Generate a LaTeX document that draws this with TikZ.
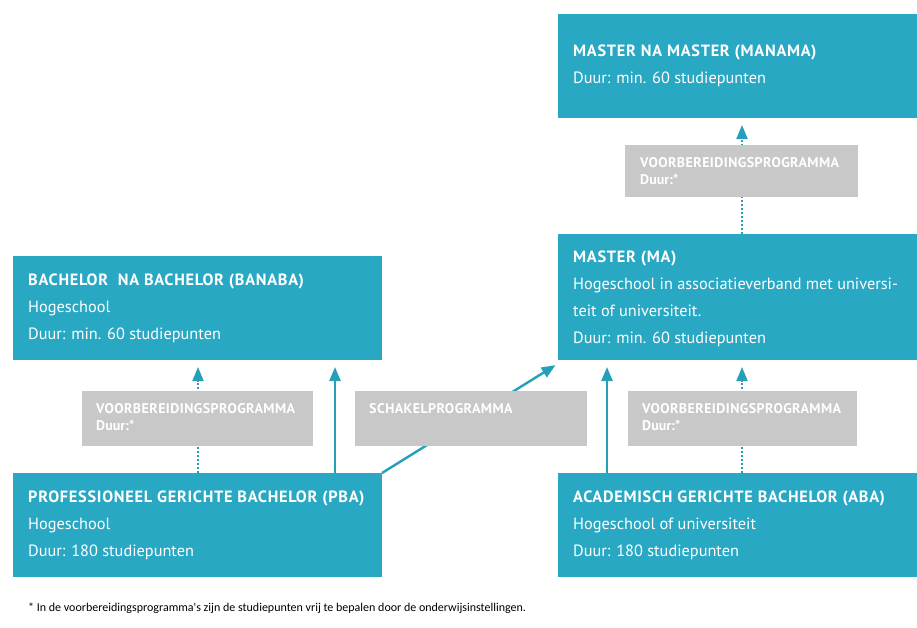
\documentclass[tikz,border=0pt]{standalone}
\usepackage{fontspec}
\setmainfont{PT Sans}
\newfontfamily\footfont{Carlito}
\usetikzlibrary{arrows.meta}
\definecolor{tealbox}{RGB}{41,168,196}
\definecolor{tealline}{RGB}{38,160,186}
\definecolor{graybox}{RGB}{200,200,200}
\begin{document}
\begin{tikzpicture}[x=1pt,y=-1pt,
  box/.style={fill=tealbox, draw=none, anchor=north west, inner sep=0pt, outer sep=0pt},
  gbox/.style={fill=graybox, draw=none, anchor=north west, inner sep=0pt, outer sep=0pt},
  btext/.style={anchor=base west, align=left, text=white, inner sep=0pt,
    font=\fontsize{16.3}{26.7}\selectfont},
  gtext/.style={anchor=base west, align=left, text=white, inner sep=0pt,
    font=\fontsize{14}{17}\selectfont\bfseries},
  conn/.style={draw=tealline, line width=2.4pt,
    -{Triangle[length=14pt,width=11pt]}, shorten >=7pt},
  dconn/.style={draw=tealline, line width=2pt, dotted,
    -{Triangle[length=14pt,width=11pt]}, shorten >=7pt}
]
\useasboundingbox (0,0) rectangle (917,627);

% boxes
\node[box, minimum width=359, minimum height=104] (manama) at (558,14) {};
\node[box, minimum width=359, minimum height=126] (ma) at (558,234) {};
\node[box, minimum width=369, minimum height=104] (banaba) at (13,256) {};
\node[box, minimum width=369, minimum height=104] (pba) at (13,473) {};
\node[box, minimum width=359, minimum height=104] (aba) at (558,473) {};

% helper coordinates
\coordinate (xa) at (335,0);
\coordinate (xb) at (607,0);
\coordinate (xd) at (198,0);
\coordinate (xe) at (742,0);
\coordinate (diagend) at (559,363);

% connectors (drawn under the grey boxes)
\draw[dconn] (xd |- pba.north) -- (xd |- banaba.south);
\draw[conn] (xa |- pba.north) -- (xa |- banaba.south);
\draw[conn, shorten >=4pt] (pba.north east) -- (diagend);
\draw[conn] (xb |- aba.north) -- (xb |- ma.south);
\draw[dconn] (xe |- aba.north) -- (xe |- ma.south);
\draw[dconn] (xe |- ma.north) -- (xe |- manama.south);

% grey boxes
\node[gbox, minimum width=233, minimum height=52] (vtop) at (625,145) {};
\node[gbox, minimum width=231, minimum height=55] (vleft) at (82,391) {};
\node[gbox, minimum width=232, minimum height=55] (schakel) at (355,391) {};
\node[gbox, minimum width=229, minimum height=55] (vright) at (628,391) {};

% texts (anchor = baseline of the last line)
\node[btext] (manamaT) at (573,83) {\textbf{\addfontfeatures{LetterSpace=4.5}MASTER NA MASTER (MANAMA)}\\Duur: min. 60 studiepunten};
\node[btext] (maT) at (573,343) {\textbf{\addfontfeatures{LetterSpace=4.5}MASTER (MA)}\\Hogeschool in associatieverband met universi-\\teit of universiteit.\\Duur: min. 60 studiepunten};
\node[btext] (banabaT) at (28,339) {\textbf{\addfontfeatures{LetterSpace=4.5}BACHELOR\ \ NA BACHELOR (BANABA)}\\Hogeschool\\Duur: min. 60 studiepunten};
\node[btext] (pbaT) at (28,556) {\textbf{\addfontfeatures{LetterSpace=4.5}PROFESSIONEEL GERICHTE BACHELOR (PBA)}\\Hogeschool\\Duur: 180 studiepunten};
\node[btext] (abaT) at (573,556) {\textbf{\addfontfeatures{LetterSpace=4.5}ACADEMISCH GERICHTE BACHELOR (ABA)}\\Hogeschool of universiteit\\Duur: 180 studiepunten};

\node[gtext] (vtopT) at (640,184) {\addfontfeatures{LetterSpace=3}VOORBEREIDINGSPROGRAMMA\\Duur:*};
\node[gtext] (vleftT) at (96,430) {\addfontfeatures{LetterSpace=3}VOORBEREIDINGSPROGRAMMA\\Duur:*};
\node[gtext] (schakelT) at (369,413) {\addfontfeatures{LetterSpace=3}SCHAKELPROGRAMMA};
\node[gtext] (vrightT) at (642,430) {\addfontfeatures{LetterSpace=3}VOORBEREIDINGSPROGRAMMA\\Duur:*};

\node[anchor=base west, inner sep=0pt, font=\footfont\fontsize{12}{14}\selectfont] (foot) at (28,611)
  {* In de voorbereidingsprogramma's zijn de studiepunten vrij te bepalen door de onderwijsinstellingen.};
\end{tikzpicture}
\end{document}
